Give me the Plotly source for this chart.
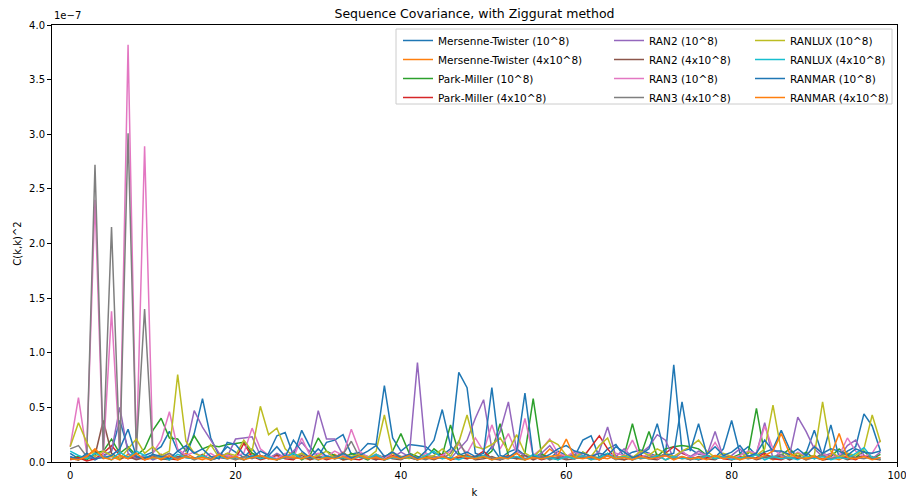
import plotly.graph_objects as go

# Squared sequence covariance C(k,k)^2 for lags k = 0..98, in units of 1e-9
SCALE = 1e-9
k = list(range(99))

mt_1e8 = [8, 3, 5, 2, 6, 10, 38, 12, 4, 6,
          9, 14, 28, 10, 5, 26, 58, 22, 6, 14,
          9, 4, 12, 3, 8, 24, 27, 6, 29, 14,
          5, 18, 20, 25, 7, 9, 17, 16, 70, 22,
          10, 16, 15, 14, 8, 6, 12, 82, 68, 8,
          5, 14, 3, 9, 12, 6, 4, 8, 3, 10,
          6, 5, 20, 24, 4, 12, 16, 5, 9, 11,
          8, 5, 6, 89, 10, 12, 7, 6, 4, 12,
          38, 8, 14, 6, 9, 12, 29, 12, 5, 8,
          29, 6, 34, 4, 10, 14, 44, 33, 10]
mt_4e8 = [4, 2, 6, 10, 3, 5, 2, 7, 3, 4,
          6, 2, 5, 3, 8, 4, 2, 5, 3, 6,
          2, 4, 8, 3, 5, 2, 6, 3, 4, 2,
          5, 3, 7, 2, 4, 6, 3, 5, 2, 8,
          3, 4, 2, 6, 3, 5, 2, 4, 7, 3,
          5, 2, 4, 6, 3, 2, 5, 4, 12, 6,
          6, 3, 5, 2, 4, 3, 6, 2, 5, 3,
          4, 7, 2, 5, 3, 4, 2, 6, 3, 5,
          2, 4, 6, 3, 5, 2, 4, 3, 6, 2,
          5, 3, 4, 2, 6, 3, 5, 4, 2]
pm_1e8 = [3, 5, 2, 8, 10, 21, 8, 14, 6, 12,
          29, 40, 22, 21, 10, 24, 12, 15, 14, 16,
          17, 18, 8, 5, 3, 7, 4, 9, 2, 6,
          22, 10, 6, 3, 8, 5, 2, 7, 4, 10,
          26, 8, 5, 3, 12, 6, 34, 8, 3, 5,
          4, 10, 35, 6, 3, 8, 58, 7, 4, 2,
          6, 3, 9, 5, 4, 8, 3, 6, 35, 6,
          28, 5, 12, 14, 15, 14, 12, 6, 3, 5,
          4, 7, 8, 49, 6, 5, 6, 12, 4, 9,
          3, 8, 5, 12, 6, 4, 10, 3, 7]
pm_4e8 = [2, 4, 1, 3, 8, 15, 6, 3, 5, 2,
          4, 7, 3, 2, 5, 3, 6, 2, 4, 8,
          3, 17, 5, 2, 4, 6, 3, 2, 8, 3,
          5, 2, 4, 9, 3, 2, 5, 3, 2, 6,
          3, 4, 2, 5, 3, 7, 2, 4, 3, 5,
          10, 3, 2, 6, 4, 3, 5, 2, 4, 3,
          6, 5, 4, 14, 24, 12, 3, 5, 2, 6,
          4, 3, 8, 14, 8, 5, 2, 4, 6, 3,
          2, 5, 3, 4, 8, 3, 2, 5, 3, 4,
          6, 2, 3, 5, 4, 2, 6, 3, 4]
ran2_1e8 = [4, 2, 6, 3, 5, 10, 50, 8, 3, 6,
            2, 5, 8, 3, 12, 47, 32, 20, 8, 5,
            21, 22, 23, 6, 3, 8, 4, 10, 18, 9,
            47, 21, 21, 6, 3, 8, 5, 2, 6, 4,
            9, 5, 91, 8, 4, 6, 3, 12, 20, 40,
            57, 12, 28, 55, 10, 6, 3, 8, 15, 5,
            4, 9, 6, 3, 10, 32, 5, 12, 4, 8,
            14, 25, 20, 3, 9, 5, 10, 6, 28, 4,
            6, 12, 5, 8, 36, 3, 10, 6, 41, 28,
            12, 5, 8, 4, 15, 20, 6, 3, 9]
ran2_4e8 = [3, 2, 5, 6, 38, 8, 3, 5, 2, 4,
            6, 3, 2, 5, 4, 3, 7, 2, 4, 3,
            5, 2, 6, 3, 4, 2, 5, 3, 6, 2,
            4, 3, 5, 2, 3, 6, 4, 2, 5, 3,
            2, 6, 3, 4, 2, 5, 3, 4, 6, 2,
            3, 5, 2, 4, 3, 6, 2, 5, 3, 4,
            2, 3, 5, 4, 2, 6, 3, 2, 4, 5,
            3, 2, 6, 3, 4, 2, 5, 3, 2, 6,
            4, 3, 5, 2, 4, 3, 6, 2, 5, 3,
            4, 2, 3, 5, 2, 4, 6, 3, 2]
ran3_1e8 = [14, 59, 8, 240, 5, 138, 6, 382, 5, 289,
            8, 20, 46, 12, 6, 9, 4, 8, 3, 6,
            5, 8, 31, 12, 6, 3, 8, 4, 22, 6,
            8, 5, 10, 6, 30, 10, 4, 7, 3, 9,
            5, 6, 3, 8, 4, 6, 10, 16, 8, 22,
            10, 34, 12, 26, 8, 40, 6, 12, 21, 8,
            5, 10, 4, 6, 8, 5, 8, 6, 20, 4,
            8, 3, 6, 5, 10, 4, 8, 6, 18, 5,
            3, 6, 10, 8, 33, 12, 6, 4, 9, 5,
            15, 8, 4, 6, 22, 10, 5, 8, 20]
ran3_4e8 = [12, 15, 5, 272, 11, 215, 5, 301, 10, 140,
            6, 4, 8, 3, 6, 2, 5, 3, 7, 4,
            2, 5, 3, 6, 4, 2, 5, 3, 8, 4,
            6, 3, 5, 7, 19, 4, 3, 6, 2, 5,
            3, 7, 4, 2, 5, 3, 8, 19, 5, 3,
            6, 4, 2, 5, 8, 3, 4, 6, 2, 5,
            3, 7, 4, 5, 3, 6, 2, 4, 5, 3,
            6, 4, 8, 3, 5, 2, 4, 6, 3, 5,
            4, 2, 6, 3, 5, 4, 7, 3, 5, 2,
            4, 6, 3, 5, 8, 4, 3, 5, 2]
ranlux_1e8 = [14, 36, 18, 5, 10, 6, 3, 12, 21, 8,
              14, 6, 10, 80, 19, 8, 5, 16, 4, 8,
              6, 20, 10, 51, 25, 31, 12, 5, 8, 4,
              6, 10, 3, 8, 5, 7, 4, 10, 43, 8,
              5, 3, 9, 4, 6, 12, 5, 18, 43, 14,
              12, 16, 22, 10, 25, 8, 4, 12, 20, 16,
              6, 4, 9, 5, 15, 22, 3, 6, 4, 10,
              6, 12, 8, 5, 10, 14, 20, 10, 4, 8,
              5, 3, 9, 6, 12, 52, 10, 5, 8, 4,
              6, 55, 10, 4, 8, 6, 12, 43, 18]
ranlux_4e8 = [10, 6, 3, 8, 5, 2, 9, 4, 10, 6,
              3, 5, 2, 7, 4, 3, 6, 2, 5, 3,
              4, 2, 6, 3, 5, 2, 4, 8, 3, 5,
              2, 6, 3, 4, 2, 5, 3, 7, 2, 4,
              3, 5, 2, 6, 10, 3, 4, 2, 5, 3,
              6, 2, 4, 3, 5, 2, 7, 3, 4, 2,
              5, 3, 6, 2, 4, 8, 3, 5, 2, 4,
              3, 6, 2, 5, 3, 4, 2, 6, 3, 5,
              2, 4, 3, 7, 2, 5, 3, 4, 2, 6,
              3, 5, 2, 4, 3, 8, 13, 4, 3]
ranmar_1e8 = [5, 2, 8, 3, 4, 6, 12, 30, 5, 3,
              7, 5, 3, 10, 15, 8, 12, 5, 3, 18,
              16, 7, 4, 10, 6, 14, 5, 20, 10, 4,
              12, 5, 3, 8, 4, 6, 10, 15, 5, 9,
              4, 7, 3, 10, 20, 48, 15, 6, 9, 5,
              8, 68, 6, 4, 10, 63, 5, 3, 7, 12,
              15, 10, 8, 5, 8, 6, 14, 9, 4, 7,
              12, 35, 6, 8, 55, 10, 35, 7, 14, 6,
              9, 15, 5, 8, 20, 10, 10, 7, 12, 6,
              14, 8, 12, 10, 6, 12, 9, 8, 10]
ranmar_4e8 = [3, 2, 5, 12, 4, 2, 6, 3, 8, 2,
              4, 3, 6, 2, 5, 3, 4, 2, 7, 3,
              5, 2, 4, 6, 3, 2, 5, 4, 3, 6,
              2, 4, 3, 5, 2, 6, 3, 4, 2, 5,
              3, 6, 2, 4, 3, 5, 2, 6, 4, 3,
              5, 2, 4, 3, 8, 2, 4, 3, 5, 6,
              21, 4, 3, 5, 2, 6, 3, 4, 2, 5,
              3, 4, 6, 2, 5, 3, 4, 2, 6, 3,
              5, 2, 4, 3, 6, 10, 26, 8, 4, 3,
              5, 2, 6, 26, 4, 3, 5, 2, 4]

names = ["Mersenne-Twister (10^8)", "Mersenne-Twister (4x10^8)",
         "Park-Miller (10^8)", "Park-Miller (4x10^8)",
         "RAN2 (10^8)", "RAN2 (4x10^8)",
         "RAN3 (10^8)", "RAN3 (4x10^8)",
         "RANLUX (10^8)", "RANLUX (4x10^8)",
         "RANMAR (10^8)", "RANMAR (4x10^8)"]
series = [mt_1e8, mt_4e8, pm_1e8, pm_4e8, ran2_1e8, ran2_4e8,
          ran3_1e8, ran3_4e8, ranlux_1e8, ranlux_4e8, ranmar_1e8, ranmar_4e8]
palette = ["#1f77b4", "#ff7f0e", "#2ca02c", "#d62728", "#9467bd",
           "#8c564b", "#e377c2", "#7f7f7f", "#bcbd22", "#17becf"]
y_ticks = [0.0, 0.5, 1.0, 1.5, 2.0, 2.5, 3.0, 3.5, 4.0]
x_ticks = [0, 20, 40, 60, 80, 100]

FONT = "DejaVu Sans"
W, H = 906, 498
ML, MR, MT, MB = 52, 9, 25, 36

fig = go.Figure()
legend_ids = ["legend", "legend2", "legend3"]
for i, (name, vals) in enumerate(zip(names, series)):
    fig.add_trace(go.Scatter(
        x=k, y=[v * SCALE for v in vals], mode="lines", name=name,
        line=dict(color=palette[i % len(palette)], width=1.5),
        legend=legend_ids[i // 4],
    ))

pw, ph = W - ML - MR, H - MT - MB
def px_x(p):
    return (p - ML) / pw
def px_y(p):
    return 1 - (p - MT) / ph

legend_style = dict(
    font=dict(family=FONT, size=10.5, color="#000000"),
    bgcolor="rgba(0,0,0,0)", borderwidth=0, tracegroupgap=0,
    xanchor="left", yanchor="top", orientation="v",
)
col_left = [398, 609, 750]
legend_top = 26
fig.update_layout(
    width=W, height=H,
    margin=dict(l=ML, r=MR, t=MT, b=MB, autoexpand=False),
    paper_bgcolor="white", plot_bgcolor="white",
    font=dict(family=FONT, size=10, color="#000000"),
    title=dict(text="Sequence Covariance, with Ziggurat method",
               x=(ML + pw / 2) / W, xanchor="center", y=1 - 14 / H, yanchor="middle",
               font=dict(family=FONT, size=12.5, color="#000000")),
    xaxis=dict(range=[-2.2, 100], tickvals=x_ticks, ticktext=[str(t) for t in x_ticks],
               showgrid=False, zeroline=False, showline=True, mirror=True,
               linecolor="#000000", linewidth=1, ticks="outside", ticklen=4,
               tickcolor="#000000", tickfont=dict(size=10),
               ticklabeloverflow="allow",
               title=dict(text="k", standoff=10, font=dict(size=10))),
    yaxis=dict(range=[0, 4e-7], tickvals=[t * 1e-7 for t in y_ticks],
               ticktext=[f"{t:.1f}" for t in y_ticks],
               showgrid=False, zeroline=False, showline=True, mirror=True,
               linecolor="#000000", linewidth=1, ticks="outside", ticklen=4,
               tickcolor="#000000", tickfont=dict(size=10),
               title=dict(text="C(k,k)^2", standoff=5, font=dict(size=10))),
    legend=dict(x=px_x(col_left[0]), y=px_y(legend_top), **legend_style),
    legend2=dict(x=px_x(col_left[1]), y=px_y(legend_top), **legend_style),
    legend3=dict(x=px_x(col_left[2]), y=px_y(legend_top), **legend_style),
    showlegend=True,
)

# legend frame shared by the three columns
fig.add_shape(type="rect", xref="paper", yref="paper",
              x0=px_x(396), x1=px_x(892), y0=px_y(29), y1=px_y(104),
              line=dict(color="#cccccc", width=1),
              fillcolor="rgba(255,255,255,0.8)", layer="above")

# offset text for the y axis
fig.add_annotation(text="1e\u22127", xref="paper", yref="paper", x=0, y=1,
                   xanchor="left", yanchor="bottom", yshift=2, showarrow=False,
                   font=dict(family=FONT, size=10, color="#000000"))

fig.write_html("out.html")
